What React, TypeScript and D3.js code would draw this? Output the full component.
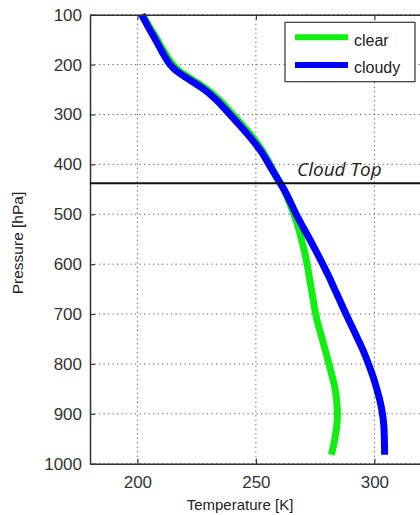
import React, { useEffect, useRef } from "react";
import * as d3 from "d3";

// pressure levels (hPa) the two profiles are read at
const pressure = [
  100, 125, 150, 175, 200, 212, 225, 237, 250, 262, 275, 300, 325, 350, 375,
  400, 425, 450, 475, 500, 525, 550, 575, 600, 625, 650, 675, 700, 725, 750,
  775, 800, 825, 850, 875, 900, 925, 950, 975, 982,
];

// temperature (K), clear sky
const clearT = [
  202.2, 205.2, 208.4, 211.4, 215, 217.6, 221.5, 225.5, 229.5, 232.6, 235.5,
  240.3, 245, 249.4, 253, 256, 258.8, 261.8, 264, 266, 267.8, 269.2, 270.5,
  271.6, 272.5, 273.4, 274.3, 275.2, 276.5, 278, 279.4, 280.8, 282.2, 283.4,
  284.1, 284.4, 284.1, 283.3, 282.2, 281.8,
];

// temperature (K), cloudy sky
const cloudyT = [
  201.8, 204.6, 207.6, 210.5, 213.8, 216.3, 220.2, 224.2, 228.2, 231.3, 234.2,
  239, 243.8, 248.3, 252.3, 255.5, 258.6, 261.8, 264.5, 267, 269.8, 272.7,
  275.5, 278.2, 280.8, 283.2, 285.6, 288, 290.5, 293, 295.4, 297.5, 299.4,
  301, 302.4, 303.4, 304, 304.2, 304.3, 304.3,
];

const tempTicks = [200, 250, 300];
const pressTicks = [100, 200, 300, 400, 500, 600, 700, 800, 900, 1000];
const cloudTop = 438;

const series = [
  { name: "clear", values: clearT, color: "#11ee11" },
  { name: "cloudy", values: cloudyT, color: "#0000ff" },
];

export default function App() {
  const ref = useRef<SVGSVGElement>(null);

  useEffect(() => {
    const svg = d3.select(ref.current);
    svg.selectAll("*").remove();

    const left = 90, right = 421.8, top = 14.7, bottom = 463.7;
    const x = d3.scaleLinear().domain([180, 320]).range([left, right]);
    const y = d3.scaleLinear().domain([100, 1000]).range([top, bottom]);

    // dotted grid
    const grid = svg.append("g");
    grid.selectAll("line.v")
      .data(tempTicks)
      .join("line")
      .attr("class", "v")
      .attr("x1", (d) => x(d)).attr("x2", (d) => x(d))
      .attr("y1", top).attr("y2", bottom);
    grid.selectAll("line.h")
      .data(pressTicks)
      .join("line")
      .attr("class", "h")
      .attr("x1", left).attr("x2", right)
      .attr("y1", (d) => y(d)).attr("y2", (d) => y(d));
    grid.selectAll("line")
      .attr("stroke", "#555")
      .attr("stroke-width", 1)
      .attr("stroke-dasharray", "1.2,3.3");

    // profiles, cloudy drawn last so it sits on top
    const line = d3.line<number>()
      .x((d) => x(d))
      .y((_, i) => y(pressure[i]))
      .curve(d3.curveCatmullRom);
    series.forEach((s) => {
      svg.append("path")
        .attr("d", line(s.values))
        .attr("fill", "none")
        .attr("stroke", s.color)
        .attr("stroke-width", 7)
        .attr("stroke-linejoin", "round");
    });

    // axes, ticks pointing inward
    const styleAxis = (g: any) => {
      g.select(".domain").attr("stroke", "#333").attr("stroke-width", 1.5);
      g.selectAll(".tick line").attr("stroke", "#333").attr("stroke-width", 1.2);
      g.selectAll(".tick text")
        .attr("fill", "#333")
        .style("font-family", "'Liberation Sans', Arial, sans-serif")
        .style("font-size", "17px");
    };
    svg.append("g")
      .attr("transform", `translate(${left},0)`)
      .call(d3.axisLeft(y).tickValues(pressTicks).tickFormat(d3.format("d")).tickSize(-5).tickSizeOuter(0).tickPadding(8))
      .call(styleAxis);
    svg.append("g")
      .attr("transform", `translate(0,${bottom})`)
      .call(d3.axisBottom(x).tickValues(tempTicks).tickSize(-5).tickSizeOuter(0).tickPadding(12))
      .call(styleAxis);
    svg.append("g")
      .attr("transform", `translate(0,${top})`)
      .call(d3.axisTop(x).tickValues(tempTicks).tickSize(-5).tickSizeOuter(0).tickFormat(() => ""))
      .call(styleAxis);

    // cloud top marker
    svg.append("line")
      .attr("x1", left).attr("x2", right)
      .attr("y1", y(cloudTop)).attr("y2", y(cloudTop))
      .attr("stroke", "#111")
      .attr("stroke-width", 2);
    svg.append("text")
      .attr("x", 297)
      .attr("y", y(cloudTop) - 7)
      .style("font-family", "'Open Sans', sans-serif")
      .style("font-style", "italic")
      .style("font-size", "19px")
      .attr("fill", "#222")
      .text("Cloud Top");

    // axis titles
    svg.append("text")
      .attr("x", 240)
      .attr("y", 510)
      .attr("text-anchor", "middle")
      .style("font-family", "'Liberation Sans', Arial, sans-serif")
      .style("font-size", "15px")
      .attr("fill", "#222")
      .text("Temperature [K]");
    svg.append("text")
      .attr("transform", "rotate(-90)")
      .attr("x", -243)
      .attr("y", 23)
      .attr("text-anchor", "middle")
      .style("font-family", "'Liberation Sans', Arial, sans-serif")
      .style("font-size", "15.5px")
      .attr("fill", "#222")
      .text("Pressure [hPa]");

    // legend
    const legend = svg.append("g");
    legend.append("rect")
      .attr("x", 285).attr("y", 22.3)
      .attr("width", 130).attr("height", 59.4)
      .attr("fill", "#fff")
      .attr("stroke", "#333")
      .attr("stroke-width", 1.2);
    series.forEach((s, i) => {
      const ly = 37.3 + i * 27.7;
      legend.append("line")
        .attr("x1", 295).attr("x2", 348)
        .attr("y1", ly).attr("y2", ly)
        .attr("stroke", s.color)
        .attr("stroke-width", 6);
      legend.append("text")
        .attr("x", 354)
        .attr("y", ly + 8.3)
        .style("font-family", "'Liberation Sans', Arial, sans-serif")
        .style("font-size", "16px")
        .attr("fill", "#222")
        .text(s.name);
    });
  }, []);

  return (
    <svg
      ref={ref}
      width={420}
      height={515}
      style={{ position: "absolute", left: 0, top: 0, background: "#fff" }}
    />
  );
}
